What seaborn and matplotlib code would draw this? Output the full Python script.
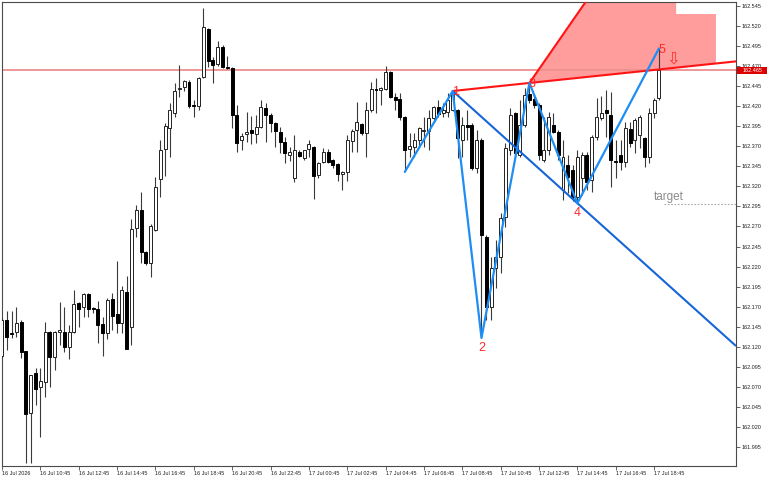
import matplotlib
matplotlib.use("Agg")
import matplotlib.pyplot as plt
from matplotlib.patches import Polygon, Rectangle
import seaborn as sns
import pandas as pd

# ---------------- data (15-minute candles, 16 Jul 08:45 -> 17 Jul 19:00) ----------------
opens = [162.108, 162.153, 162.137, 162.138, 162.151, 162.115, 162.037, 162.087, 162.070, 162.076,
         162.138, 162.107, 162.138, 162.138, 162.120, 162.138, 162.175, 162.170, 162.186, 162.168,
         162.167, 162.148, 162.137, 162.180, 162.161, 162.150, 162.188, 162.145, 162.268, 162.291,
         162.238, 162.224, 162.266, 162.329, 162.367, 162.393, 162.412, 162.441, 162.444, 162.450,
         162.422, 162.420, 162.456, 162.516, 162.478, 162.473, 162.494, 162.469, 162.468, 162.409,
         162.378, 162.385, 162.390, 162.385, 162.394, 162.418, 162.409, 162.399, 162.388, 162.375,
         162.359, 162.330, 162.363, 162.355, 162.367, 162.369, 162.334, 162.350, 162.363, 162.353,
         162.348, 162.335, 162.338, 162.377, 162.390, 162.398, 162.387, 162.415, 162.441, 162.440,
         162.441, 162.463, 162.431, 162.429, 162.407, 162.367, 162.369, 162.378, 162.389, 162.389,
         162.405, 162.419, 162.412, 162.413, 162.415, 162.415, 162.378, 162.397, 162.397, 162.343,
         162.378, 162.257, 162.170, 162.218, 162.232, 162.282, 162.365, 162.412, 162.359, 162.397,
         162.435, 162.429, 162.422, 162.353, 162.365, 162.397, 162.388, 162.315, 162.347, 162.340,
         162.307, 162.330, 162.359, 162.328, 162.382, 162.405, 162.415, 162.409, 162.352, 162.359,
         162.350, 162.392, 162.378, 162.384, 162.380, 162.357, 162.412, 162.430]
highs = [162.156, 162.165, 162.165, 162.170, 162.153, 162.115, 162.085, 162.093, 162.093, 162.151,
         162.140, 162.140, 162.176, 162.170, 162.147, 162.191, 162.176, 162.187, 162.187, 162.170,
         162.177, 162.157, 162.181, 162.187, 162.227, 162.196, 162.208, 162.279, 162.297, 162.313,
         162.240, 162.273, 162.332, 162.378, 162.399, 162.424, 162.449, 162.471, 162.453, 162.453,
         162.428, 162.456, 162.543, 162.518, 162.481, 162.501, 162.496, 162.483, 162.469, 162.422,
         162.387, 162.413, 162.408, 162.409, 162.428, 162.424, 162.412, 162.400, 162.394, 162.382,
         162.369, 162.384, 162.365, 162.366, 162.378, 162.370, 162.350, 162.368, 162.367, 162.354,
         162.349, 162.339, 162.384, 162.392, 162.425, 162.399, 162.425, 162.450, 162.455, 162.444,
         162.470, 162.464, 162.436, 162.436, 162.408, 162.387, 162.387, 162.394, 162.407, 162.415,
         162.420, 162.428, 162.424, 162.436, 162.439, 162.417, 162.407, 162.415, 162.399, 162.390,
         162.380, 162.259, 162.232, 162.253, 162.287, 162.374, 162.418, 162.413, 162.428, 162.443,
         162.449, 162.434, 162.424, 162.407, 162.413, 162.412, 162.390, 162.378, 162.359, 162.347,
         162.365, 162.363, 162.363, 162.384, 162.430, 162.433, 162.440, 162.438, 162.378, 162.378,
         162.400, 162.400, 162.405, 162.409, 162.382, 162.418, 162.430, 162.493]
lows = [162.106, 162.116, 162.131, 162.132, 162.106, 161.975, 161.975, 162.047, 162.007, 162.057,
        162.070, 162.091, 162.122, 162.113, 162.105, 162.137, 162.145, 162.157, 162.157, 162.162,
        162.125, 162.108, 162.130, 162.141, 162.137, 162.137, 162.117, 162.122, 162.257, 162.224,
        162.222, 162.207, 162.264, 162.307, 162.333, 162.357, 162.407, 162.431, 162.439, 162.418,
        162.407, 162.415, 162.455, 162.469, 162.449, 162.470, 162.468, 162.466, 162.393, 162.363,
        162.365, 162.375, 162.373, 162.374, 162.393, 162.375, 162.388, 162.369, 162.362, 162.349,
        162.352, 162.325, 162.357, 162.353, 162.357, 162.304, 162.330, 162.349, 162.349, 162.343,
        162.327, 162.315, 162.327, 162.363, 162.363, 162.384, 162.357, 162.413, 162.412, 162.422,
        162.440, 162.430, 162.415, 162.403, 162.340, 162.357, 162.357, 162.368, 162.369, 162.365,
        162.400, 162.407, 162.407, 162.407, 162.414, 162.355, 162.357, 162.378, 162.340, 162.337,
        162.131, 162.153, 162.153, 162.193, 162.212, 162.269, 162.359, 162.357, 162.357, 162.394,
        162.424, 162.418, 162.353, 162.350, 162.359, 162.387, 162.353, 162.303, 162.312, 162.302,
        162.299, 162.309, 162.315, 162.313, 162.378, 162.403, 162.382, 162.319, 162.330, 162.340,
        162.344, 162.369, 162.362, 162.368, 162.344, 162.349, 162.405, 162.428]
closes = [162.153, 162.132, 162.136, 162.150, 162.113, 162.036, 162.085, 162.067, 162.077, 162.138,
          162.107, 162.138, 162.141, 162.120, 162.138, 162.173, 162.167, 162.186, 162.167, 162.167,
          162.147, 162.137, 162.178, 162.158, 162.150, 162.191, 162.117, 162.267, 162.291, 162.238,
          162.224, 162.271, 162.319, 162.365, 162.395, 162.415, 162.439, 162.443, 162.451, 162.420,
          162.420, 162.455, 162.519, 162.476, 162.471, 162.494, 162.469, 162.468, 162.409, 162.374,
          162.383, 162.388, 162.387, 162.394, 162.419, 162.409, 162.399, 162.389, 162.375, 162.362,
          162.363, 162.365, 162.358, 162.365, 162.373, 162.333, 162.349, 162.363, 162.350, 162.347,
          162.335, 162.338, 162.378, 162.389, 162.400, 162.387, 162.415, 162.441, 162.440, 162.443,
          162.463, 162.431, 162.428, 162.407, 162.365, 162.370, 162.378, 162.393, 162.390, 162.405,
          162.419, 162.410, 162.415, 162.428, 162.436, 162.380, 162.397, 162.394, 162.343, 162.378,
          162.259, 162.170, 162.218, 162.232, 162.281, 162.368, 162.409, 162.362, 162.397, 162.434,
          162.428, 162.422, 162.359, 162.365, 162.407, 162.388, 162.359, 162.357, 162.332, 162.307,
          162.357, 162.359, 162.325, 162.382, 162.407, 162.412, 162.412, 162.353, 162.350, 162.350,
          162.393, 162.374, 162.403, 162.407, 162.357, 162.412, 162.428, 162.465]

time_labels = ["16 Jul 2026", "16 Jul 10:45", "16 Jul 12:45", "16 Jul 14:45", "16 Jul 16:45",
               "16 Jul 18:45", "16 Jul 20:45", "16 Jul 22:45", "17 Jul 00:45", "17 Jul 02:45",
               "17 Jul 04:45", "17 Jul 06:45", "17 Jul 08:45", "17 Jul 10:45", "17 Jul 12:45",
               "17 Jul 14:45", "17 Jul 16:45", "17 Jul 18:45"]
candles_per_label = 8

# zigzag pattern points (candle index, price)
zz_idx = [84, 94, 100, 110, 120, 137]
zz_price = [162.338, 162.439, 162.131, 162.449, 162.299, 162.492]
zz_names = ["", "1", "2", "3", "4", "5"]

current_price = 162.465
target_price = 162.298
target_text = "target"

# ---------------- layout / geometry ----------------
X_LEFT, X_RIGHT = 0.17, 153.08
Y_BOT, Y_TOP = 161.9712, 162.5500
zone_top_idx = 122.4       # where the steep red edge leaves the top
zone_step_idx = 140.6
zone_right_idx = 148.9
zone_step_price = 162.535
zone_top_price = 162.556

sns.set_style("white")
plt.rcParams['font.family'] = ['Liberation Sans', 'DejaVu Sans']

fig = plt.figure(figsize=(7.68, 4.8), dpi=100)
ax = fig.add_axes([2 / 768, 14 / 480, 734 / 768, 464 / 480])
ax.set_xlim(X_LEFT, X_RIGHT)
ax.set_ylim(Y_BOT, Y_TOP)

df = pd.DataFrame({"open": opens, "high": highs, "low": lows, "close": closes})
df["idx"] = range(len(df))
up = df["close"] >= df["open"]

# trend lines through pattern points 1-3 (red) and 1-4 (blue)
i1, p1 = zz_idx[1], zz_price[1]
i3, p3 = zz_idx[3], zz_price[3]
i4, p4 = zz_idx[4], zz_price[4]
slope13 = (p3 - p1) / (i3 - i1)
red_at = lambda x: p1 + slope13 * (x - i1)
slope14 = (p4 - p1) / (i4 - i1)
blue_at = lambda x: p1 + slope14 * (x - i1)

# pink zone
zone = Polygon([(i3, p3), (zone_top_idx, zone_top_price), (zone_step_idx, zone_top_price),
                (zone_step_idx, zone_step_price), (zone_right_idx, zone_step_price),
                (zone_right_idx, red_at(zone_right_idx))],
               closed=True, facecolor="#ff9c9c", edgecolor="none", zorder=1)
ax.add_patch(zone)

# current price line
ax.axhline(current_price, color="#ee9090", lw=1.3, zorder=1.5)

# candles
ax.vlines(df["idx"], df["low"], df["high"], color="#3a3a3a", lw=0.8, zorder=3)
ax.bar(df["idx"][up], (df["close"] - df["open"])[up], bottom=df["open"][up], width=0.62,
       color="white", edgecolor="#222222", linewidth=0.7, zorder=4)
ax.bar(df["idx"][~up], (df["open"] - df["close"])[~up], bottom=df["close"][~up], width=0.62,
       color="black", edgecolor="black", linewidth=0.7, zorder=4)

# trend lines
ax.plot([i1, X_RIGHT], [p1, blue_at(X_RIGHT)], color="#1565d8", lw=1.5, zorder=5,
        solid_capstyle="butt")
ax.plot([i1, X_RIGHT], [p1, red_at(X_RIGHT)], color="#ff1414", lw=1.5, zorder=5)
ax.plot([i3, zone_top_idx], [p3, zone_top_price], color="#ff1414", lw=1.5, zorder=5)

# zigzag
sns.lineplot(x=zz_idx, y=zz_price, sort=False, estimator=None, color="#1e8ef5", lw=1.6,
             ax=ax, zorder=6)

# point labels
for k in range(1, len(zz_idx)):
    is_high = zz_price[k] > zz_price[k - 1]
    if is_high:
        ax.annotate(zz_names[k], (zz_idx[k], zz_price[k]), xytext=(2, -1),
                    textcoords="offset points", ha="center", va="center",
                    fontsize=9, color="#ff2a2a", zorder=8)
    else:
        ax.annotate(zz_names[k], (zz_idx[k], zz_price[k]), xytext=(0, -3),
                    textcoords="offset points", ha="center", va="top",
                    fontsize=9, color="#ff2a2a", zorder=8)

# sell arrow
ax.annotate("\u21e9", (zz_idx[5], zz_price[5]), xytext=(10, -7), textcoords="offset points",
            ha="center", va="center", fontsize=12, color="#ff3030",
            family=["DejaVu Sans"], zorder=8)

# target line & label
ax.plot([zz_idx[5] + 1, X_RIGHT], [target_price, target_price], color="#a8a8a8", lw=0.8,
        ls=(0, (1.5, 1.5)), zorder=5)
ax.annotate(target_text, (zz_idx[5] - 1, target_price), xytext=(0, 0.8),
            textcoords="offset points", ha="left", va="bottom", fontsize=8.5,
            color="#8c8c8c", zorder=8)

# axes styling
for s in ax.spines.values():
    s.set_color("#4a4a4a")
    s.set_linewidth(0.8)
ax.yaxis.tick_right()
yt = [round(162.545 - 0.025 * k, 3) for k in range(23)]
ax.set_yticks(yt)
ax.set_yticklabels([f"{v:.3f}" for v in yt])
ax.tick_params(axis="y", which="both", right=True, left=False, length=3, width=0.6,
               color="#4a4a4a", pad=1, labelsize=4, labelcolor="#222222")
xt = [k * candles_per_label for k in range(len(time_labels))]
ax.set_xticks(xt)
ax.set_xticklabels(time_labels, ha="left")
ax.tick_params(axis="x", bottom=True, length=3, width=0.6, color="#4a4a4a", pad=0.5,
               labelsize=4, labelcolor="#222222")
ax.grid(False)

# current price box on the axis
ax.add_patch(Rectangle((1.0014, current_price - 0.0045), 0.041, 0.009,
                       transform=ax.get_yaxis_transform(), facecolor="#dc0000",
                       edgecolor="none", clip_on=False, zorder=10))
ax.text(1.0014 + 0.0205, current_price, f"{current_price:.3f}", transform=ax.get_yaxis_transform(),
        ha="center", va="center", fontsize=4, color="white", zorder=11, clip_on=False)

fig.savefig("out.png", dpi=100)
